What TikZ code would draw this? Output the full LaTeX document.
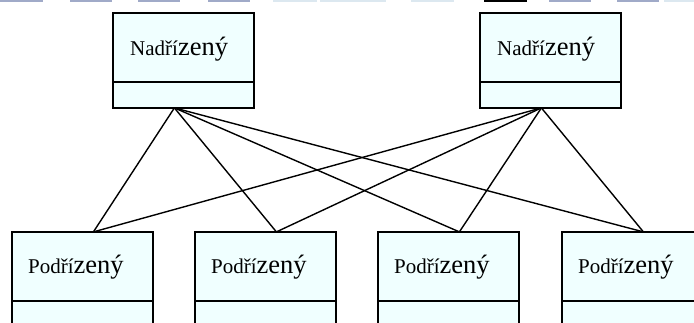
\documentclass[tikz,border=0pt]{standalone}
\usepackage{fontspec}
\setmainfont{Liberation Serif}
\usepackage{xcolor}
\usepackage{tikz}

\definecolor{boxfill}{RGB}{240,255,255}
\definecolor{barblue}{RGB}{160,170,200}
\definecolor{barlight}{RGB}{220,232,240}

\newcommand{\mixname}[2]{{\fontsize{21}{21}\selectfont #1}{\fontsize{26.5}{26.5}\selectfont #2}}

\begin{document}
\begin{tikzpicture}[x=1pt,y=-1pt,
  box/.style={draw=black, line width=1.8pt, fill=boxfill, minimum width=141pt, minimum height=95pt, inner sep=0pt, anchor=north west},
  label/.style={anchor=base west, inner sep=0pt},
  link/.style={draw=black, line width=1.4pt}]
\useasboundingbox (0,0) rectangle (694,323);

% strip left from the toolbar
\foreach \a/\b in {0/43,70/112,138/180,208/250,549/591,617/659}
  \fill[barblue] (\a,0) rectangle (\b,1.6);
\foreach \a/\b in {273/317,320/350,344/386,411/454,664/694}
  \fill[barlight] (\a,0) rectangle (\b,1.6);
\fill[black] (484,0) rectangle (527,1.6);

% superiors
\node[box] (n1) at (112,12) {};
\node[box] (n2) at (479,12) {};
% subordinates
\node[box] (p1) at (11,231) {};
\node[box] (p2) at (194,231) {};
\node[box] (p3) at (377,231) {};
\node[box] (p4) at (561,231) {};

\foreach \b in {n1,n2,p1,p2,p3,p4}{
  \draw[line width=1.8pt] ([yshift=-70pt]\b.north west) -- ([yshift=-70pt]\b.north east);
}

\node[label] (tn1) at ([xshift=18pt,yshift=-44pt]n1.north west) {\mixname{Nadří}{zený}};
\node[label] (tn2) at ([xshift=18pt,yshift=-44pt]n2.north west) {\mixname{Nadří}{zený}};
\foreach \b in {p1,p2,p3,p4}
  \node[label] (t\b) at ([xshift=17pt,yshift=-43pt]\b.north west) {\mixname{Podří}{zený}};

% every superior to every subordinate
\foreach \s in {n1,n2}
  \foreach \t in {p1,p2,p3,p4}
    \draw[link] ([xshift=-9pt,yshift=0.9pt]\s.south) -- ([xshift=11pt,yshift=-0.9pt]\t.north);

\end{tikzpicture}
\end{document}
